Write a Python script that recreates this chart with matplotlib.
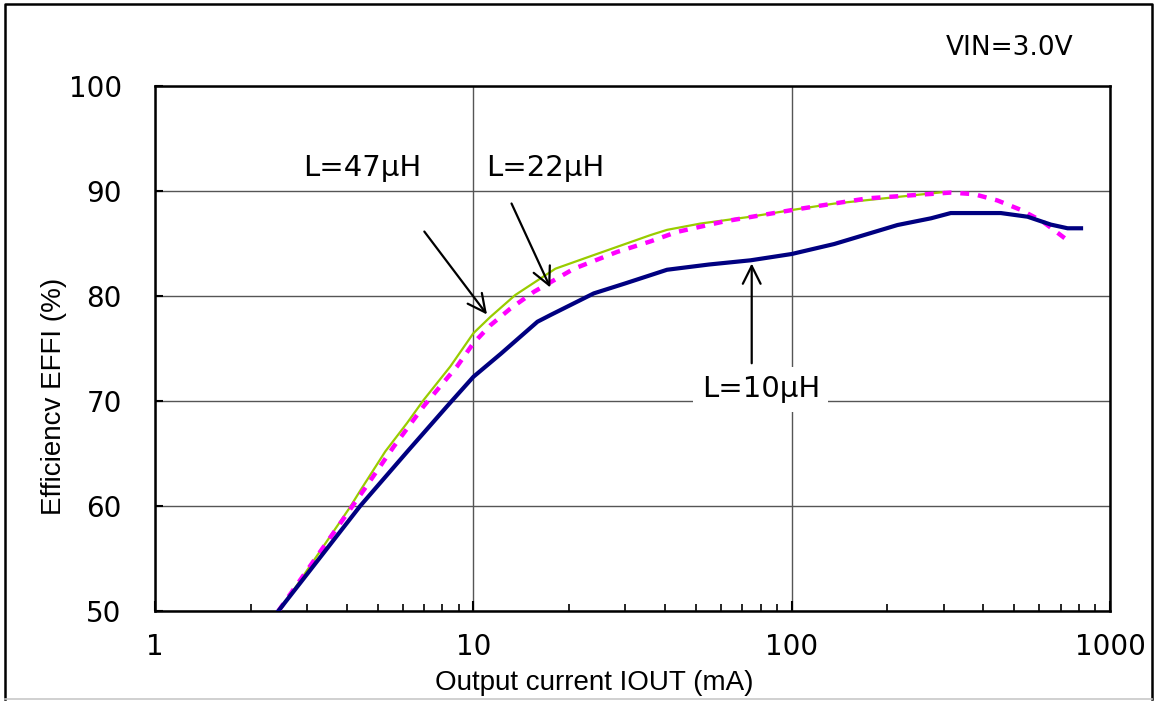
import matplotlib
matplotlib.use("Agg")
import matplotlib.pyplot as plt
from matplotlib.lines import Line2D
from matplotlib.ticker import LogLocator, NullFormatter, FixedLocator, FixedFormatter

# Efficiency vs output current, VIN = 3.0 V, three inductor values
i_10 = [2.44, 4.41, 6.25, 8.27, 10, 12.2, 15.9, 17.5, 23.9, 30, 40.6, 55, 74.3,
        100, 136, 215, 274, 316, 454, 551, 652, 736, 811]
eff_10 = [50, 60, 65.3, 69.5, 72.3, 74.5, 77.55, 78.2, 80.25, 81.2, 82.5, 83.0, 83.4,
          84.0, 84.95, 86.76, 87.4, 87.9, 87.9, 87.55, 86.8, 86.45, 86.45]

i_22 = [2.44, 4.57, 5.62, 6.98, 7.87, 8.89, 10, 11.3, 13.07, 15.5, 20.7, 28.3, 36,
        43.6, 61.3, 100.9, 173, 316, 374, 443, 525, 614, 736]
eff_22 = [50, 61.7, 65.65, 69.5, 71.4, 73.3, 75.5, 77.2, 78.8, 80.4, 82.6, 84.2, 85.2,
          86.1, 87.1, 88.2, 89.3, 89.85, 89.7, 89.1, 88.2, 87.1, 85.3]

i_47 = [2.46, 4.1, 4.42, 5.29, 6.19, 6.98, 8.47, 10, 11.3, 13.55, 18.1, 23.9, 36,
        40.6, 51.7, 74.3, 100.6, 136, 195, 301]
eff_47 = [50, 59.9, 61.5, 65.2, 67.9, 70.1, 73.3, 76.45, 78.0, 80.1, 82.6, 83.9, 85.8,
          86.3, 86.9, 87.55, 88.2, 88.8, 89.3, 89.9]

xticks = [1, 10, 100, 1000]
xtick_labels = ["1", "10", "100", "1000"]
yticks = [50, 60, 70, 80, 90, 100]

fig = plt.figure(figsize=(11.56, 7.02), dpi=100)
ax = fig.add_axes([0.1341, 0.1296, 0.9602 - 0.1341, 0.8775 - 0.1296])

ax.plot(i_47, eff_47, color="#99cc00", lw=1.6, zorder=3)
ax.plot(i_22, eff_22, color="#ff00ff", lw=3.2, dashes=(2.0, 2.0), zorder=4)
ax.plot(i_10, eff_10, color="#000080", lw=3.0, zorder=5)

ax.set_xscale("log")
ax.set_xlim(1, 1000)
ax.set_ylim(50, 100)

ax.xaxis.set_major_locator(FixedLocator(xticks))
ax.xaxis.set_major_formatter(FixedFormatter(xtick_labels))
ax.xaxis.set_minor_locator(LogLocator(base=10, subs=range(2, 10)))
ax.xaxis.set_minor_formatter(NullFormatter())
ax.set_yticks(yticks)

ax.tick_params(axis="both", which="major", direction="in", length=6, width=1.5,
               labelsize=20, colors="black")
ax.tick_params(axis="x", which="minor", direction="in", length=5, width=1.2)
ax.tick_params(axis="x", which="major", pad=16, length=7)
ax.tick_params(axis="y", which="major", pad=24)

ax.grid(True, which="major", color="#555555", lw=1.0)
for s in ax.spines.values():
    s.set_linewidth(1.8)
    s.set_color("black")

fig.text(0.047, 0.435, "Efficiencv EFFI (%)", rotation=90, ha="center", va="center",
         fontsize=20, family="Liberation Sans")
fig.text(0.514, 0.027, "Output current IOUT (mA)", ha="center", va="center",
         fontsize=20, family="Liberation Sans")
fig.text(0.873, 0.932, "VIN=3.0V", ha="center", va="center", fontsize=19)

arrow = dict(arrowstyle="->", color="black", lw=1.6, mutation_scale=32)
ax.text(4.48, 92.2, "L=47μH", fontsize=21, ha="center", va="center")
ax.annotate("", xy=(11.17, 78.03), xytext=(6.93, 86.35), arrowprops=arrow, zorder=6)
ax.text(16.8, 92.2, "L=22μH", fontsize=21, ha="center", va="center")
ax.annotate("", xy=(17.59, 80.57), xytext=(13.07, 89.05), arrowprops=arrow, zorder=6)
ax.text(80, 71.1, "L=10μH", fontsize=21, ha="center", va="center", zorder=7,
        bbox=dict(facecolor="white", edgecolor="none", pad=6))
ax.annotate("", xy=(74.9, 83.36), xytext=(74.9, 73.33), arrowprops=arrow, zorder=6)

# outer frame: black on three sides, light grey along the bottom
W, H = 1156, 702
fx0, fx1, fy_top, fy_bot = 5 / W, 1152 / W, 1 - 4 / H, 3 / H
fig.lines.append(Line2D([fx0, fx0, fx1, fx1], [fy_bot, fy_top, fy_top, fy_bot],
                        transform=fig.transFigure, color="black", lw=1.8))
fig.lines.append(Line2D([fx0, fx1], [fy_bot, fy_bot], transform=fig.transFigure,
                        color="#c8c8c8", lw=1.2))

fig.savefig("out.png", dpi=100)
